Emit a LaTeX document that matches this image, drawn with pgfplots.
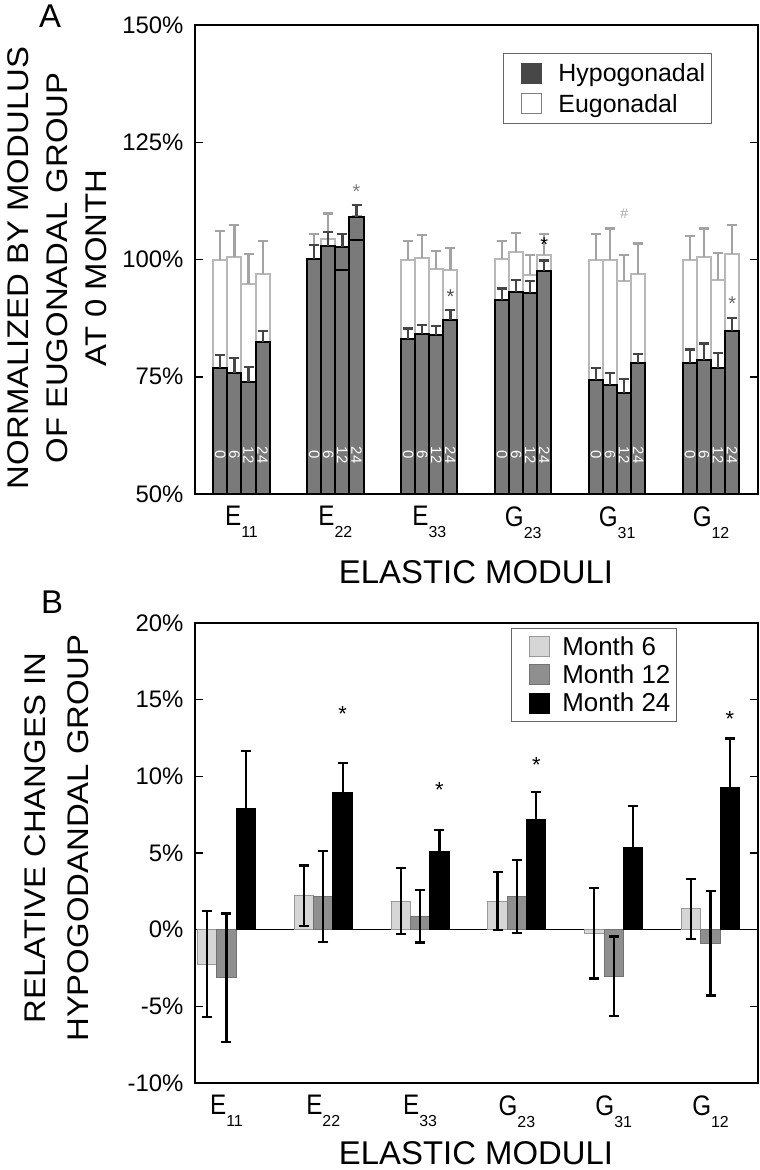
\documentclass[border=0pt]{standalone}
\usepackage{fontspec}
\setmainfont{Liberation Sans}
\usepackage{pgfplots}
\usepackage{pgfplotstable}
\pgfplotsset{compat=1.18}

\definecolor{hypobar}{gray}{0.48}
\definecolor{hypoleg}{gray}{0.28}
\definecolor{hypoerr}{gray}{0.27}
\definecolor{eugoedge}{gray}{0.72}
\definecolor{eugoerr}{gray}{0.64}
\definecolor{msix}{gray}{0.84}
\definecolor{msixedge}{gray}{0.60}
\definecolor{mtwelve}{gray}{0.56}
\definecolor{mtwelveedge}{gray}{0.45}

\newcommand{\cat}[2]{\scalebox{0.9}[1.05]{\fontsize{27}{27}\selectfont #1}\raisebox{-12bp}{\fontsize{16}{16}\selectfont #2}}

% panel A: normalized moduli, bars at i-0.225, i-0.075, i+0.075, i+0.225 (months 0,6,12,24)
\pgfplotstableread{
x y e
0.775 100.0 6.1
0.925 100.6 6.7
1.075 94.8 6.4
1.225 96.9 7.0
1.775 100.0 5.5
1.925 104.4 5.4
2.075 97.8 4.0
2.225 104.2 5.0
2.775 100.0 3.9
2.925 100.3 4.9
3.075 98.0 3.8
3.225 97.8 4.7
3.775 100.1 3.8
3.925 101.7 4.0
4.075 96.6 4.3
4.225 100.9 4.6
4.775 100.0 5.4
4.925 100.0 6.6
5.075 95.4 5.6
5.225 97.0 6.4
5.775 100.0 5.0
5.925 100.6 6.0
6.075 95.7 5.7
6.225 101.1 6.3
}\eugo

\pgfplotstableread{
x y e
0.775 76.9 2.8
0.925 75.9 3.1
1.075 73.9 3.1
1.225 82.4 2.3
1.775 100.1 3.0
1.925 102.8 3.0
2.075 102.6 2.9
2.225 109.1 2.6
2.775 83.1 2.2
2.925 84.2 1.8
3.075 83.8 2.0
3.225 87.2 2.0
3.775 91.3 2.5
3.925 93.1 2.5
4.075 92.8 2.6
4.225 97.6 2.2
4.775 74.3 2.6
4.925 73.2 2.6
5.075 71.6 3.0
5.225 77.9 2.0
5.775 77.9 2.9
5.925 78.6 3.5
6.075 76.9 3.2
6.225 84.7 2.9
}\hypo

% panel B: relative changes
\pgfplotstableread{
x y e
0.8 -2.24 3.48
1.8 2.22 1.96
2.8 1.87 2.15
3.8 1.87 1.87
4.8 -0.22 2.96
5.8 1.35 1.98
}\msixtab
\pgfplotstableread{
x y e
1 -3.15 4.2
2 2.17 2.97
3 0.87 1.7
4 2.17 2.4
5 -3.04 2.6
6 -0.89 3.4
}\mtwelvetab
\pgfplotstableread{
x y e
1.2 7.91 3.74
2.2 8.96 1.91
3.2 5.09 1.43
4.2 7.17 1.83
5.2 5.39 2.65
6.2 9.30 3.17
}\mtwfourtab

\pgfplotsset{
  common/.style={
    scale only axis, width=563bp,
    axis line style={line width=2bp},
    tick align=inside, ytick pos=both,
    major tick length=8bp,
    ytick style={black, line width=1.5bp},
    xtick style={draw=none},
    xtick={1,...,6},
    xticklabels={\cat{E}{11},\cat{E}{22},\cat{E}{33},\cat{G}{23},\cat{G}{31},\cat{G}{12}},
    tick label style={font=\fontsize{24}{28}\selectfont},
    yticklabel style={xshift=-8bp},
    xticklabel style={yshift=-9bp},
    clip=true,
    legend cell align=left,
  },
  legimg/.style={legend image code/.code={\path (0bp,0bp); \draw[#1,line width=1bp] (14bp,-10bp) rectangle (34bp,10bp);}},
  errA/.style={error bars/.cd, y dir=plus, y explicit,
    error bar style={line width=2.2bp, #1},
    error mark options={rotate=90, line width=2.2bp, mark size=5bp, #1}},
  errB/.style={error bars/.cd, y dir=both, y explicit,
    error bar style={line width=2.2bp, black},
    error mark options={rotate=90, line width=2.2bp, mark size=5bp, black}},
}

\begin{document}
\begin{tikzpicture}
\path[use as bounding box] (0,0) rectangle (760bp,-1170bp);

\begin{axis}[common,
  at={(195bp,-25bp)}, anchor=north west, height=469bp,
  xmin=0.505, xmax=6.5, ymin=50, ymax=150,
  ytick={50,75,100,125,150}, yticklabels={50\%,75\%,100\%,125\%,150\%},
  legend style={at={(0.547,0.940)}, anchor=north west, draw={gray!80!black}, line width=1bp,
    font=\fontsize{25}{28}\selectfont, inner xsep=4bp, inner ysep=8bp,
    row sep=7bp, nodes={inner sep=2bp},
    /tikz/every odd column/.append style={column sep=14bp}},
]
\addlegendimage{legimg={fill=hypoleg,draw=hypoleg}}
\addlegendentry{Hypogonadal}
\addlegendimage{legimg={fill=white,draw=gray}}
\addlegendentry{Eugonadal}

\addplot[ybar, bar width=0.15, bar shift=0, fill=white, draw=eugoedge, line width=2bp, errA=eugoerr]
  table[x=x, y=y, y error=e] {\eugo};
\addplot[ybar, bar width=0.15, bar shift=0, fill=hypobar, draw=black, line width=2bp, errA=hypoerr]
  table[x=x, y=y, y error=e] {\hypo};
% eugonadal tops showing inside the taller E22 bars
\addplot[ybar, bar width=0.15, bar shift=0, fill=none, draw=black, line width=1.5bp]
  table[x=x, y=y] {
x y
2.075 97.8
2.225 104.2
};

\pgfplotsinvokeforeach{1,2,3,4,5,6}{
  \node[rotate=-90, text=white, font=\fontsize{15}{15}\selectfont] at (axis cs:#1-0.225,58.3) {0};
  \node[rotate=-90, text=white, font=\fontsize{15}{15}\selectfont] at (axis cs:#1-0.075,58.3) {6};
  \node[rotate=-90, text=white, font=\fontsize{15}{15}\selectfont] at (axis cs:#1+0.075,58.3) {12};
  \node[rotate=-90, text=white, font=\fontsize{15}{15}\selectfont] at (axis cs:#1+0.225,58.3) {24};
}
\node[font=\fontsize{20}{20}\selectfont, text=gray, yshift=-4bp] at (axis cs:2.225,115.3) {*};
\node[font=\fontsize{20}{20}\selectfont, text=black!70, yshift=-4bp] at (axis cs:3.225,93.0) {*};
\node[font=\fontsize{20}{20}\selectfont, text=black, yshift=-4bp] at (axis cs:4.225,104.0) {*};
\node[font=\fontsize{14}{14}\selectfont, text=gray!70] at (axis cs:5.075,109.8) {\#};
\node[font=\fontsize{20}{20}\selectfont, text=black!60, yshift=-4bp] at (axis cs:6.225,91.5) {*};
\end{axis}

\begin{axis}[common,
  at={(195bp,-623bp)}, anchor=north west, height=460bp,
  xmin=0.675, xmax=6.49, ymin=-10, ymax=20,
  ytick={-10,-5,0,5,10,15,20}, yticklabels={-10\%,-5\%,0\%,5\%,10\%,15\%,20\%},
  extra y ticks={0}, extra y tick labels={},
  extra y tick style={grid=major, major grid style={black, line width=1.2bp}, ytick style={draw=none}},
  legend style={at={(0.561,0.989)}, anchor=north west, draw={gray!80!black}, line width=1bp,
    font=\fontsize{26}{29}\selectfont, inner xsep=4bp, inner ysep=6bp,
    row sep=4bp, nodes={inner sep=2bp},
    /tikz/every odd column/.append style={column sep=10bp}},
]
\addlegendimage{legimg={fill=msix,draw=msixedge}}
\addlegendentry{Month 6}
\addlegendimage{legimg={fill=mtwelve,draw=mtwelveedge}}
\addlegendentry{Month 12}
\addlegendimage{legimg={fill=black,draw=black}}
\addlegendentry{Month 24}

\addplot[ybar, bar width=0.2, bar shift=0, fill=msix, draw=msixedge, line width=1bp, errB]
  table[x=x, y=y, y error=e] {\msixtab};
\addplot[ybar, bar width=0.2, bar shift=0, fill=mtwelve, draw=mtwelveedge, line width=1bp, errB]
  table[x=x, y=y, y error=e] {\mtwelvetab};
\addplot[ybar, bar width=0.2, bar shift=0, fill=black, draw=black, line width=1bp, errB]
  table[x=x, y=y, y error=e] {\mtwfourtab};

\node[font=\fontsize{22}{22}\selectfont, yshift=-4bp] at (axis cs:2.2,14.3) {*};
\node[font=\fontsize{22}{22}\selectfont, yshift=-4bp] at (axis cs:3.2,9.4) {*};
\node[font=\fontsize{22}{22}\selectfont, yshift=-4bp] at (axis cs:4.2,11.0) {*};
\node[font=\fontsize{22}{22}\selectfont, yshift=-4bp] at (axis cs:6.2,14.0) {*};
\end{axis}

% panel letters and axis titles
\node[font=\fontsize{33}{33}\selectfont] at (50bp,-16bp) {A};
\node[font=\fontsize{33}{33}\selectfont] at (52bp,-602bp) {B};
\node[font=\fontsize{33}{33}\selectfont] at (476bp,-572bp) {ELASTIC MODULI};
\node[font=\fontsize{33}{33}\selectfont] at (476bp,-1153bp) {ELASTIC MODULI};
\node[rotate=90, align=center, font=\fontsize{30}{39}\selectfont] at (57bp,-268bp)
  {\scalebox{1.1}[1]{NORMALIZED BY MODULUS}\\\scalebox{1.1}[1]{OF EUGONADAL GROUP}\\\scalebox{1.1}[1]{AT 0 MONTH}};
\node[rotate=90, align=center, font=\fontsize{30}{43}\selectfont] at (57bp,-838bp)
  {\scalebox{1.1}[1]{RELATIVE CHANGES IN}\\\scalebox{1.1}[1]{HYPOGODANDAL GROUP}};
\end{tikzpicture}
\end{document}
